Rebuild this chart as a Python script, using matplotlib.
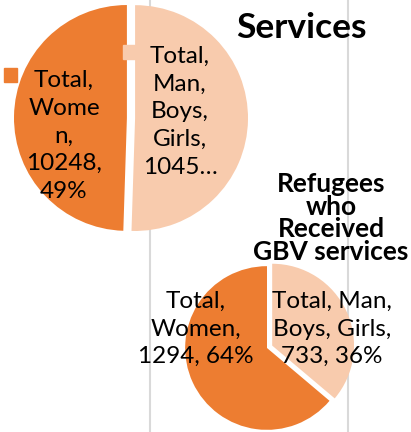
import matplotlib.pyplot as plt
from matplotlib.patches import Rectangle

# data
top_labels = ['Total, Women', 'Total, Man, Boys, Girls']
top_values = [10248, 10458]
top_texts = ['Total,\nWome\nn,\n10248,\n49%', 'Total,\nMan,\nBoys,\nGirls,\n1045…']
top_title = 'Services'

gbv_labels = ['Total, Women', 'Total, Man, Boys, Girls']
gbv_values = [1294, 733]
gbv_texts = ['Total,\nWomen,\n1294, 64%', 'Total, Man,\nBoys, Girls,\n733, 36%']
gbv_title = 'Refugees\nwho\nReceived\nGBV services'

colors = ['#ED7D31', '#F8CBAD']
W, H = 411, 432
plt.rcParams['font.family'] = ['Lato', 'DejaVu Sans']

fig = plt.figure(figsize=(W / 100, H / 100), dpi=100)


def px_axes(cx, cy, r, zorder):
	# axes box in pixel coords, square around the pie centre
	return fig.add_axes([(cx - r) / W, 1 - (cy + r) / H, 2 * r / W, 2 * r / H], zorder=zorder)


# background with light vertical gridlines
bg = fig.add_axes([0, 0, 1, 1], zorder=0)
bg.set_xlim(0, W)
bg.set_ylim(H, 0)
for x in [150, 348]:
	bg.axvline(x, color='#d9d9d9', lw=1.5)
bg.axis('off')

# top pie (partly cut off)
ax1 = px_axes(131, 118, 117, 1)
ax1.pie(top_values, colors=colors, startangle=90, counterclock=True,
	explode=[0.035, 0.035], radius=0.965)
ax1.set_xlim(-1, 1)
ax1.set_ylim(-1, 1)
ax1.set_aspect('equal')
ax1.axis('off')

# bottom pie
ax2 = px_axes(267, 348, 88, 1)
ax2.pie(gbv_values, colors=colors, startangle=90, counterclock=True,
	explode=[0, 0.065], radius=0.93)
ax2.set_xlim(-1, 1)
ax2.set_ylim(-1, 1)
ax2.set_aspect('equal')
ax2.axis('off')

# overlay for labels and titles
ov = fig.add_axes([0, 0, 1, 1], zorder=5)
ov.set_xlim(0, W)
ov.set_ylim(H, 0)
ov.axis('off')
ov.patch.set_alpha(0)

lab = dict(fontsize=17.5, ha='center', va='center', linespacing=1.39, color='black')
ov.text(64, 136, top_texts[0], **lab)
ov.text(180, 112, top_texts[1], **lab)
ov.add_patch(Rectangle((4, 68), 13, 14, color=colors[0]))
ov.add_patch(Rectangle((123, 45), 13, 14, color=colors[1]))

ov.text(196, 329, gbv_texts[0], **lab)
ov.text(332, 329, gbv_texts[1], **lab)

ov.text(301, 28, top_title, fontsize=25.5, fontweight='bold', ha='center', va='center')
ov.text(331, 218, gbv_title, fontsize=19, fontweight='bold', ha='center', va='center',
	linespacing=0.93)

fig.savefig('out.png', dpi=100)
